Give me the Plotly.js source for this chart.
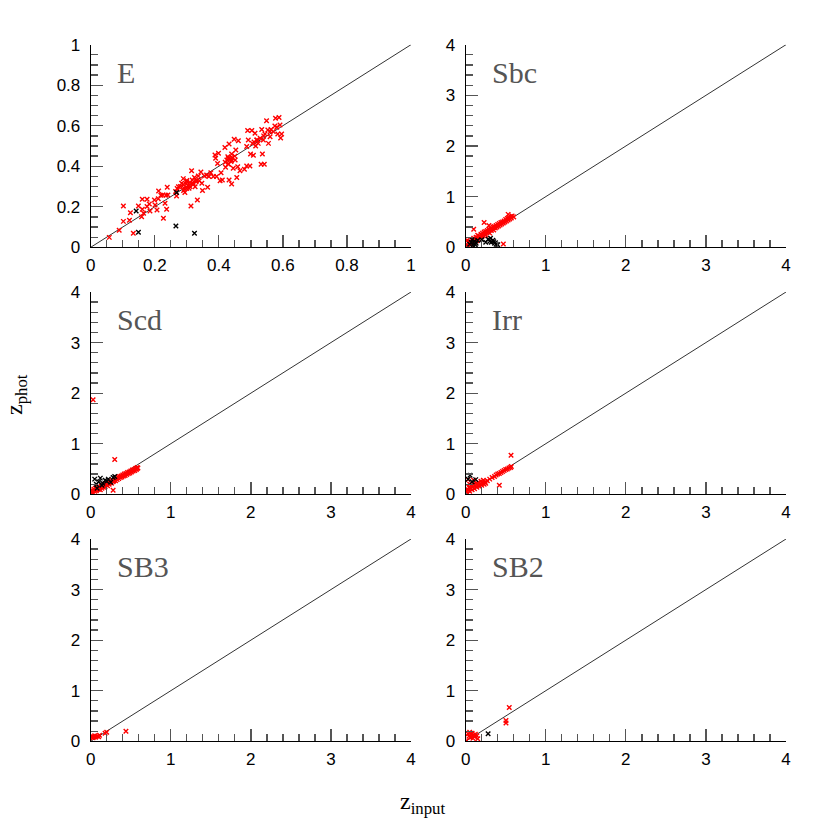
<!DOCTYPE html>
<html>
<head>
<meta charset="utf-8">
<script src="https://cdn.plot.ly/plotly-3.0.1.min.js"></script>
<style>html,body{margin:0;padding:0;background:#fff;}#chart{width:830px;height:830px;}</style>
</head>
<body>
<div id="chart"></div>
<script>
// ---- data ----
const panelNames = ["E", "Sbc", "Scd", "Irr", "SB3", "SB2"];
const panelMax = [1, 4, 4, 4, 4, 4];

const eRedX = [0.058,0.089,0.102,0.102,0.121,0.124,0.133,0.149,0.161,0.161,
0.159,0.165,0.176,0.176,0.183,0.185,0.199,0.201,0.207,0.212,
0.211,0.219,0.225,0.227,0.232,0.235,0.237,0.239,0.241,0.265,
0.268,0.274,0.284,0.289,0.292,0.294,0.298,0.300,0.305,0.307,
0.313,0.315,0.317,0.320,0.324,0.326,0.329,0.333,0.336,0.339,
0.344,0.347,0.349,0.355,0.362,0.365,0.369,0.375,0.383,0.388,
0.390,0.393,0.396,0.399,0.404,0.407,0.411,0.419,0.421,0.425,
0.428,0.430,0.432,0.432,0.435,0.438,0.440,0.442,0.445,0.448,
0.451,0.453,0.456,0.459,0.461,0.466,0.480,0.487,0.487,0.490,
0.492,0.497,0.499,0.503,0.505,0.508,0.513,0.515,0.518,0.523,
0.529,0.532,0.534,0.536,0.539,0.542,0.544,0.549,0.553,0.555,
0.560,0.563,0.570,0.575,0.577,0.581,0.584,0.588,0.591,0.593,
0.596,0.28,0.29,0.30,0.31,0.30,0.32,0.29,0.31,0.33,0.27,
0.43,0.44,0.42,0.45,0.44,0.43,0.52,0.54,0.51,0.56];
const eRedY = [0.049,0.084,0.204,0.128,0.133,0.171,0.069,0.204,0.237,0.188,
0.151,0.168,0.237,0.201,0.214,0.179,0.234,0.209,0.184,0.278,
0.240,0.257,0.258,0.143,0.217,0.257,0.188,0.296,0.258,0.275,
0.253,0.299,0.316,0.339,0.291,0.270,0.313,0.324,0.303,0.291,
0.204,0.378,0.332,0.316,0.345,0.299,0.324,0.234,0.352,0.329,
0.372,0.316,0.280,0.352,0.357,0.296,0.350,0.368,0.350,0.456,
0.439,0.350,0.414,0.464,0.329,0.368,0.332,0.493,0.395,0.431,
0.447,0.411,0.510,0.332,0.438,0.423,0.313,0.442,0.390,0.533,
0.431,0.480,0.345,0.398,0.526,0.378,0.385,0.401,0.497,0.576,
0.530,0.401,0.461,0.576,0.513,0.454,0.563,0.500,0.530,0.513,
0.538,0.410,0.582,0.461,0.530,0.410,0.559,0.625,0.579,0.513,
0.546,0.582,0.571,0.599,0.637,0.592,0.559,0.641,0.604,0.539,
0.559,0.30,0.31,0.29,0.32,0.33,0.31,0.28,0.30,0.33,0.29,
0.44,0.43,0.42,0.45,0.46,0.41,0.53,0.55,0.52,0.57];
const eBlkX = [0.142,0.149,0.266,0.324,0.268];
const eBlkY = [0.179,0.074,0.105,0.069,0.270];

const sbcRedX = [0.02,0.04,0.05,0.06,0.07,0.08,0.09,0.10,0.10,0.11,
0.12,0.13,0.14,0.15,0.15,0.16,0.17,0.18,0.19,0.20,
0.20,0.21,0.22,0.23,0.24,0.25,0.25,0.26,0.27,0.28,
0.29,0.30,0.30,0.31,0.32,0.33,0.34,0.35,0.35,0.36,
0.37,0.38,0.39,0.40,0.41,0.42,0.43,0.44,0.45,0.46,
0.47,0.48,0.49,0.50,0.51,0.52,0.53,0.54,0.55,0.56,
0.57,0.58,0.60,0.23,0.10,0.29,0.47,0.53,0.02];
const sbcRedY = [0.05,0.08,0.12,0.06,0.10,0.15,0.09,0.14,0.18,0.12,
0.16,0.20,0.13,0.19,0.24,0.17,0.22,0.20,0.26,0.21,
0.25,0.28,0.23,0.30,0.27,0.24,0.31,0.29,0.33,0.30,
0.35,0.28,0.34,0.37,0.33,0.36,0.40,0.34,0.39,0.41,
0.38,0.43,0.40,0.45,0.42,0.47,0.44,0.49,0.46,0.50,
0.48,0.52,0.50,0.55,0.52,0.57,0.54,0.59,0.56,0.61,
0.58,0.62,0.60,0.49,0.355,0.43,0.065,0.65,0.14];
const sbcBlkX = [0.05,0.07,0.09,0.11,0.13,0.15,0.08,0.12,0.28,0.30,0.32,0.34,0.36,0.38,0.40,0.31,0.35,0.20,0.25];
const sbcBlkY = [0.06,0.10,0.04,0.12,0.08,0.14,0.15,0.05,0.16,0.12,0.10,0.14,0.08,0.06,0.05,0.18,0.11,0.15,0.10];

const scdRedX = [0.01,0.02,0.03,0.04,0.05,0.06,0.07,0.08,0.09,0.10,
0.11,0.12,0.13,0.14,0.15,0.16,0.17,0.18,0.19,0.20,
0.21,0.22,0.23,0.24,0.25,0.26,0.27,0.28,0.29,0.30,
0.31,0.32,0.33,0.34,0.35,0.36,0.37,0.38,0.39,0.40,
0.41,0.42,0.43,0.44,0.45,0.46,0.47,0.48,0.49,0.50,
0.51,0.52,0.53,0.54,0.55,0.56,0.57,0.58,0.59,
0.03,0.30,0.28,0.58];
const scdRedY = [0.04,0.08,0.03,0.10,0.06,0.12,0.07,0.09,0.14,0.10,
0.13,0.09,0.16,0.12,0.18,0.14,0.20,0.15,0.19,0.22,
0.17,0.24,0.20,0.23,0.26,0.22,0.28,0.25,0.27,0.30,
0.27,0.32,0.29,0.34,0.31,0.35,0.33,0.36,0.34,0.38,
0.36,0.40,0.37,0.41,0.39,0.43,0.41,0.44,0.42,0.46,
0.44,0.48,0.46,0.49,0.47,0.51,0.49,0.53,0.52,
1.87,0.69,0.08,0.51];
const scdBlkX = [0.05,0.07,0.10,0.12,0.15,0.18,0.20,0.22,0.25,0.28,0.30,0.08,0.14];
const scdBlkY = [0.30,0.20,0.25,0.32,0.22,0.28,0.26,0.30,0.24,0.33,0.35,0.12,0.18];

const irrRedX = [0.01,0.02,0.03,0.04,0.05,0.06,0.07,0.08,0.09,0.10,
0.11,0.12,0.13,0.14,0.15,0.16,0.17,0.18,0.19,0.20,
0.21,0.22,0.23,0.24,0.25,0.27,0.30,0.33,0.36,0.38,
0.40,0.42,0.44,0.46,0.48,0.50,0.52,0.54,0.56,0.57,
0.03,0.42,0.566,0.05,0.10];
const irrRedY = [0.05,0.10,0.08,0.14,0.06,0.12,0.18,0.09,0.15,0.20,
0.11,0.17,0.22,0.14,0.19,0.24,0.16,0.21,0.26,0.18,
0.23,0.28,0.20,0.25,0.22,0.27,0.30,0.33,0.35,0.38,
0.40,0.41,0.43,0.45,0.47,0.49,0.50,0.52,0.53,0.55,
0.29,0.18,0.77,0.20,0.28];
const irrBlkX = [0.054,0.125,0.08,0.03];
const irrBlkY = [0.375,0.29,0.25,0.30];

const sb3RedX = [0.01,0.02,0.03,0.04,0.05,0.06,0.08,0.10,0.11,0.18,0.20,0.44];
const sb3RedY = [0.08,0.10,0.07,0.09,0.11,0.08,0.10,0.09,0.12,0.16,0.18,0.20];
const sb3BlkX = [];
const sb3BlkY = [];

const sb2RedX = [0.01,0.03,0.04,0.05,0.06,0.07,0.08,0.09,0.10,0.11,0.12,0.14,0.15,0.503,0.503,0.544];
const sb2RedY = [0.01,0.15,0.10,0.18,0.08,0.13,0.16,0.06,0.12,0.09,0.14,0.11,0.05,0.41,0.36,0.67];
const sb2BlkX = [0.28];
const sb2BlkY = [0.15];

// tick positions and labels
const eMajorTicks = [0, 0.2, 0.4, 0.6, 0.8, 1];
const eMajorText = ["0", "0.2", "0.4", "0.6", "0.8", "1"];
const eMinorTicks = [0.05,0.1,0.15,0.25,0.3,0.35,0.45,0.5,0.55,0.65,0.7,0.75,0.85,0.9,0.95];
const wideMajorTicks = [0, 1, 2, 3, 4];
const wideMajorText = ["0", "1", "2", "3", "4"];
const wideMinorTicks = [0.2,0.4,0.6,0.8,1.2,1.4,1.6,1.8,2.2,2.4,2.6,2.8,3.2,3.4,3.6,3.8];

// ---- build ----
const redSets = [[eRedX,eRedY],[sbcRedX,sbcRedY],[scdRedX,scdRedY],[irrRedX,irrRedY],[sb3RedX,sb3RedY],[sb2RedX,sb2RedY]];
const blkSets = [[eBlkX,eBlkY],[sbcBlkX,sbcBlkY],[scdBlkX,scdBlkY],[irrBlkX,irrBlkY],[sb3BlkX,sb3BlkY],[sb2BlkX,sb2BlkY]];
const tickSets = [[eMajorTicks, eMajorText, eMinorTicks], [wideMajorTicks, wideMajorText, wideMinorTicks]];

const W = 830, H = 830;
const colX = [[90.7, 411.0],[465.7, 786.0]];
const rowY = [[44.7, 247.3],[292.0, 494.3],[539.0, 741.3]];

const traces = [];
const layout = {
  width: W, height: H,
  margin: {l:0, r:0, t:0, b:0},
  paper_bgcolor: '#fff', plot_bgcolor: 'rgba(0,0,0,0)',
  showlegend: false,
  font: {family: 'Liberation Sans, Arial, sans-serif', size: 17, color: '#000'},
  annotations: []
};

const mk = (c) => ({symbol: 'x-thin-open', size: 4.5, color: c, line: {color: c, width: 1.4}});
const nm = (p, k) => p + (k === 1 ? '' : k);

panelNames.forEach((name, i) => {
  const k = i + 1;
  const xa = nm('x', k), ya = nm('y', k);
  const m = panelMax[i];
  const ts = tickSets[m === 1 ? 0 : 1];
  traces.push({x: [0, m], y: [0, m], xaxis: xa, yaxis: ya, mode: 'lines',
    line: {color: '#333', width: 1}, hoverinfo: 'skip'});
  traces.push({x: redSets[i][0], y: redSets[i][1], xaxis: xa, yaxis: ya, mode: 'markers', marker: mk('#ff0000')});
  if (blkSets[i][0].length) {
    traces.push({x: blkSets[i][0], y: blkSets[i][1], xaxis: xa, yaxis: ya, mode: 'markers', marker: mk('#000000')});
  }

  const col = i % 2, row = Math.floor(i / 2);
  const xDom = [colX[col][0] / W, colX[col][1] / W];
  const yDom = [1 - rowY[row][1] / H, 1 - rowY[row][0] / H];
  const axCommon = {
    showline: true, linecolor: '#000', linewidth: 1, mirror: false,
    ticks: 'inside', ticklen: 12, tickwidth: 1.3, tickcolor: '#555',
    showgrid: false, zeroline: false, fixedrange: true,
    tickfont: {family: 'Liberation Sans, Arial, sans-serif', size: 17, color: '#000'},
    range: [0, m], autorange: false,
    tickmode: 'array', tickvals: ts[0], ticktext: ts[1],
    minor: {tickmode: 'array', tickvals: ts[2], ticks: 'inside', ticklen: 7, tickwidth: 1.3, tickcolor: '#555', showgrid: false}
  };
  layout[nm('xaxis', k)] = Object.assign({}, axCommon, {domain: xDom, anchor: ya, ticklabelstandoff: 2});
  layout[nm('yaxis', k)] = Object.assign({}, axCommon, {domain: yDom, anchor: xa, ticklabelstandoff: 6});

  layout.annotations.push({
    text: name, xref: xa + ' domain', yref: ya + ' domain',
    x: 0.077, y: 0.865, xanchor: 'left', yanchor: 'middle', showarrow: false,
    font: {family: 'Liberation Serif, DejaVu Serif, serif', size: 30, color: '#555'}
  });
});

layout.annotations.push({
  text: 'z<sub>phot</sub>', xref: 'paper', yref: 'paper', x: 16 / W, y: 1 - 395 / H,
  textangle: -90, showarrow: false, xanchor: 'center', yanchor: 'middle',
  font: {family: 'Liberation Serif, DejaVu Serif, serif', size: 24, color: '#000'}
});
layout.annotations.push({
  text: 'z<sub>input</sub>', xref: 'paper', yref: 'paper', x: 422 / W, y: 1 - 803 / H,
  showarrow: false, xanchor: 'center', yanchor: 'middle',
  font: {family: 'Liberation Serif, DejaVu Serif, serif', size: 24, color: '#000'}
});

Plotly.newPlot('chart', traces, layout, {staticPlot: true, displayModeBar: false});
</script>
</body>
</html>
